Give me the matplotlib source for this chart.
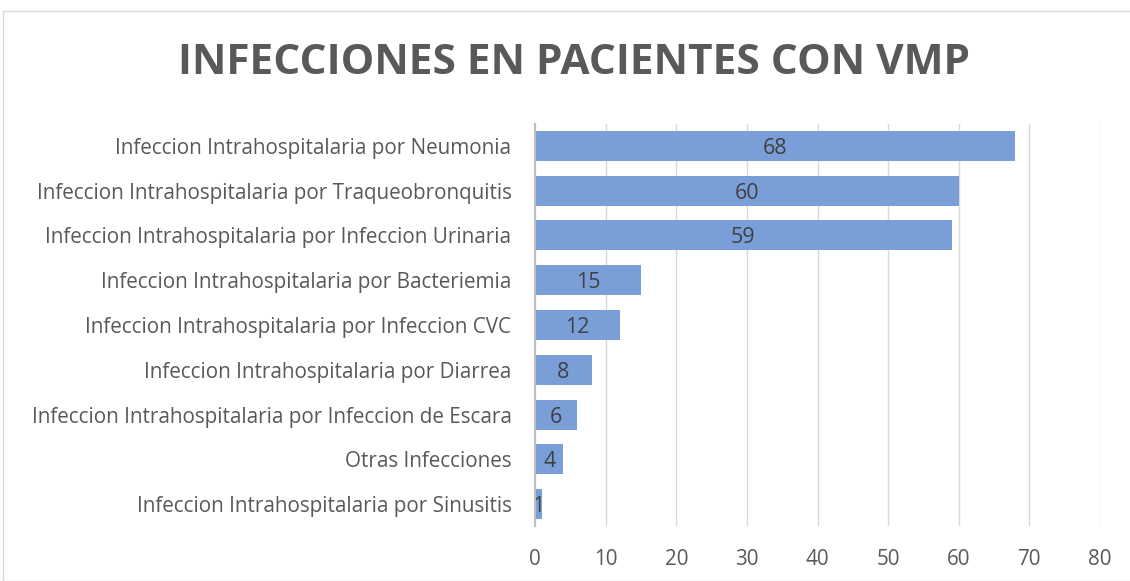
import matplotlib
matplotlib.use("Agg")
import matplotlib.pyplot as plt
from matplotlib.patches import Rectangle

categories = [
    "Infeccion Intrahospitalaria por Neumonia",
    "Infeccion Intrahospitalaria por Traqueobronquitis",
    "Infeccion Intrahospitalaria por Infeccion Urinaria",
    "Infeccion Intrahospitalaria por Bacteriemia",
    "Infeccion Intrahospitalaria por Infeccion CVC",
    "Infeccion Intrahospitalaria por Diarrea",
    "Infeccion Intrahospitalaria por Infeccion de Escara",
    "Otras Infecciones",
    "Infeccion Intrahospitalaria por Sinusitis",
]
values = [68, 60, 59, 15, 12, 8, 6, 4, 1]
x_ticks = [0, 10, 20, 30, 40, 50, 60, 70, 80]

plt.rcParams["font.family"] = ["Open Sans", "DejaVu Sans"]

fig = plt.figure(figsize=(11.3, 5.81), dpi=100)
fig.patches.append(Rectangle((3 / 1130, 0), 1.0, 1 - 11 / 581, transform=fig.transFigure,
                             fill=False, edgecolor="#d9d9d9", linewidth=1.0))
ax = fig.add_axes([535 / 1130, 1 - 526.4 / 581, 565 / 1130, (526.4 - 123.6) / 581])

pos = list(range(len(categories)))
ax.barh(pos, values, height=0.67, color="#7a9fd8", zorder=3)
for p, v in zip(pos, values):
    ax.text(v / 2, p, str(v), ha="center", va="center_baseline", fontsize=15.5,
            color="#404040", zorder=4)

ax.set_ylim(len(categories) - 0.5, -0.5)
ax.set_xlim(0, 80)
ax.set_xticks(x_ticks)
ax.set_yticks(pos)
ax.set_yticklabels(categories)
ax.tick_params(axis="y", length=0, pad=17, labelsize=14.9, labelcolor="#595959")
ax.tick_params(axis="x", length=0, pad=16, labelsize=14.9, labelcolor="#595959")
ax.grid(axis="x", color="#d9d9d9", linewidth=1.0, zorder=0)
for s in ["top", "right", "bottom"]:
    ax.spines[s].set_visible(False)
ax.spines["left"].set_color("#bfbfbf")
ax.spines["left"].set_linewidth(1.5)
ax.spines["left"].set_zorder(5)

fig.text(574 / 1130, 1 - 63 / 581, "INFECCIONES EN PACIENTES CON VMP", ha="center", va="center",
         fontsize=30.5, fontweight="bold", color="#595959")

fig.savefig("out.png", dpi=100)
plt.close(fig)
